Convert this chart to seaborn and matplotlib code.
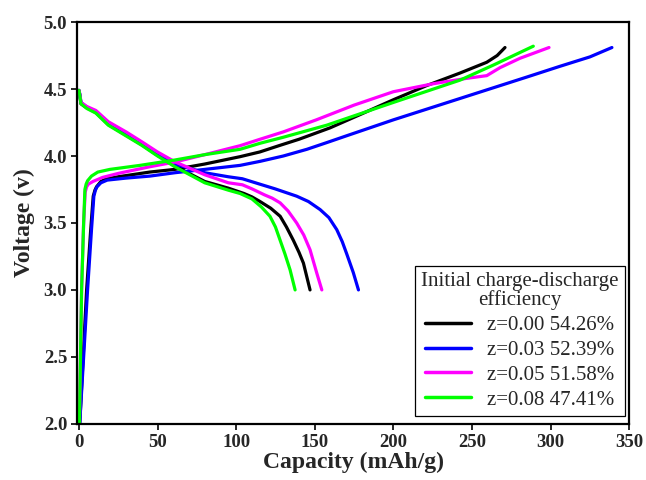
import numpy as np
import pandas as pd
import matplotlib
matplotlib.use("Agg")
import matplotlib.pyplot as plt
import seaborn as sns

# Charge / discharge profiles, capacity in mAh/g, voltage in V
labels = ["z=0.00 54.26%", "z=0.03 52.39%", "z=0.05 51.58%", "z=0.08 47.41%"]
colors = ["#000000", "#0000ff", "#ff00ff", "#00ff00"]

charge_x_000 = [0.5, 2.7, 4.9, 7.5, 9.1, 10.2, 11.2, 14, 17.6, 25, 45, 61, 80, 102.5,
                115, 128, 140, 159.7, 179, 200, 221, 242.5, 259.4, 266, 271]
charge_v_000 = [2.0, 2.5, 3.0, 3.45, 3.70, 3.745, 3.77, 3.81, 3.83, 3.845, 3.88, 3.90,
                3.94, 3.995, 4.03, 4.08, 4.125, 4.21, 4.31, 4.42, 4.525, 4.62, 4.70,
                4.75, 4.81]

charge_x_003 = [0.5, 3, 5.5, 8, 9.5, 10.5, 11.5, 14, 18, 30, 45.2, 61, 80, 102.5,
                115.2, 130, 145, 157.6, 170, 200, 242.5, 285, 306, 325, 339]
charge_v_003 = [2.0, 2.5, 3.0, 3.45, 3.70, 3.745, 3.77, 3.80, 3.82, 3.835, 3.85, 3.875,
                3.90, 3.93, 3.96, 4.0, 4.05, 4.10, 4.15, 4.27, 4.43, 4.59, 4.67, 4.74,
                4.81]

charge_x_005 = [0.3, 1.0, 1.7, 3.0, 4.0, 4.9, 6, 9, 15, 25, 45.2, 61, 80, 102.5, 115.2,
                130, 151, 175, 200, 225.5, 246.7, 259.4, 267.9, 280.6, 299]
charge_v_005 = [2.0, 2.5, 3.0, 3.5, 3.73, 3.77, 3.79, 3.81, 3.84, 3.87, 3.92, 3.955,
                4.01, 4.077, 4.125, 4.18, 4.27, 4.38, 4.48, 4.54, 4.58, 4.60, 4.66,
                4.73, 4.81]

charge_x_008 = [0.3, 1.0, 1.7, 3.0, 3.8, 4.6, 5.5, 8, 12, 19.7, 38.8, 61, 80, 102.5,
                115.2, 130, 157.6, 200, 242.5, 263.8, 289]
charge_v_008 = [2.0, 2.5, 3.0, 3.5, 3.75, 3.79, 3.815, 3.85, 3.88, 3.90, 3.93, 3.97,
                4.01, 4.05, 4.095, 4.14, 4.23, 4.40, 4.567, 4.68, 4.82]

dis_x_000 = [0, 0.6, 1.3, 5, 10.8, 18.7, 30, 39.9, 50, 61, 80, 95, 105, 110, 115.2,
             122, 128, 132, 136.4, 140, 142.8, 147]
dis_v_000 = [4.49, 4.45, 4.39, 4.36, 4.325, 4.235, 4.155, 4.085, 4.005, 3.925, 3.81,
             3.76, 3.72, 3.695, 3.66, 3.61, 3.55, 3.47, 3.37, 3.28, 3.2, 3.0]

dis_x_003 = [0, 0.6, 1.3, 5, 10.8, 18.7, 30, 39.9, 50, 61, 80, 95, 104, 115, 124.7,
             138.5, 146, 153.4, 159, 164, 167.5, 170.3, 174.5, 177.8]
dis_v_003 = [4.49, 4.46, 4.40, 4.365, 4.33, 4.25, 4.17, 4.10, 4.02, 3.94, 3.875, 3.845,
             3.83, 3.79, 3.755, 3.70, 3.66, 3.60, 3.54, 3.45, 3.36, 3.27, 3.13, 3.0]

dis_x_005 = [0, 0.6, 1.3, 5, 10.8, 18.7, 30, 39.9, 50, 61, 80, 95, 104, 110, 118,
             123, 128, 133, 138.5, 143, 147, 151.3, 154.5]
dis_v_005 = [4.49, 4.46, 4.40, 4.37, 4.34, 4.256, 4.18, 4.107, 4.03, 3.957, 3.86, 3.80,
             3.785, 3.755, 3.71, 3.685, 3.65, 3.59, 3.50, 3.41, 3.30, 3.125, 3.0]

dis_x_008 = [0, 0.6, 1.3, 5, 10.8, 18.7, 30, 39.9, 50, 61, 80, 95, 102.5, 110, 116,
             121.5, 125, 128, 131, 134.3, 137.5]
dis_v_008 = [4.49, 4.45, 4.39, 4.355, 4.32, 4.23, 4.15, 4.08, 4.0, 3.92, 3.80, 3.745,
             3.72, 3.68, 3.62, 3.55, 3.47, 3.37, 3.27, 3.15, 3.0]

x_ticks = [0, 50, 100, 150, 200, 250, 300, 350]
y_ticks = [2.0, 2.5, 3.0, 3.5, 4.0, 4.5, 5.0]

series = [
    (labels[0], charge_x_000, charge_v_000, dis_x_000, dis_v_000),
    (labels[1], charge_x_003, charge_v_003, dis_x_003, dis_v_003),
    (labels[2], charge_x_005, charge_v_005, dis_x_005, dis_v_005),
    (labels[3], charge_x_008, charge_v_008, dis_x_008, dis_v_008),
]

rows = []
for lab, cx, cv, dx, dv in series:
    for x, v in zip(cx, cv):
        rows.append((lab, "charge", x, v))
    for x, v in zip(dx, dv):
        rows.append((lab, "discharge", x, v))
df = pd.DataFrame(rows, columns=["sample", "branch", "capacity", "voltage"])

sns.set_style("ticks")
plt.rcParams["font.family"] = ["Liberation Serif", "DejaVu Serif"]
plt.rcParams["axes.linewidth"] = 1.6

fig = plt.figure(figsize=(6.46, 4.80), dpi=100)
ax = fig.add_axes([0.119, 0.117, 0.855, 0.837])

sns.lineplot(data=df, x="capacity", y="voltage", hue="sample", units="branch",
             estimator=None, sort=False, palette=dict(zip(labels, colors)),
             hue_order=labels, linewidth=2.3, ax=ax, legend=False)
for line in ax.get_lines():
    line.set_solid_joinstyle("round")
    line.set_solid_capstyle("round")

ax.set_xlim(-1.3, 350)
ax.set_ylim(2.0, 5.0)
ax.set_xticks(x_ticks)
ax.set_xticklabels([str(t) for t in x_ticks])
ax.set_yticks(y_ticks)
ax.set_yticklabels([f"{t:.1f}" for t in y_ticks])
ax.tick_params(direction="out", length=4, width=1.4, pad=3, labelsize=13.5)
for lbl in ax.get_xticklabels() + ax.get_yticklabels():
    lbl.set_fontweight("bold")
for sp in ax.spines.values():
    sp.set_visible(True)
    sp.set_color("black")

ax.set_xlabel("Capacity (mAh/g)", fontsize=17, fontweight="bold", labelpad=1)
ax.set_ylabel("Voltage (v)", fontsize=17, fontweight="bold", labelpad=6)

handles = [plt.Line2D([], [], color=c, lw=2.5) for c in colors]
leg = ax.legend(handles, labels, title="Initial charge-discharge\nefficiency",
                loc="lower right", bbox_to_anchor=(0.992, 0.02), borderaxespad=0,
                fontsize=15, title_fontsize=15, frameon=True, fancybox=False,
                edgecolor="black", framealpha=1, handlelength=2.2, handletextpad=0.8,
                labelspacing=0.25, borderpad=0.3, alignment="center")
leg.get_frame().set_linewidth(0.9)
leg.get_title().set_multialignment("center")
leg.get_title().set_linespacing(0.95)

fig.savefig("out.png", dpi=100)
